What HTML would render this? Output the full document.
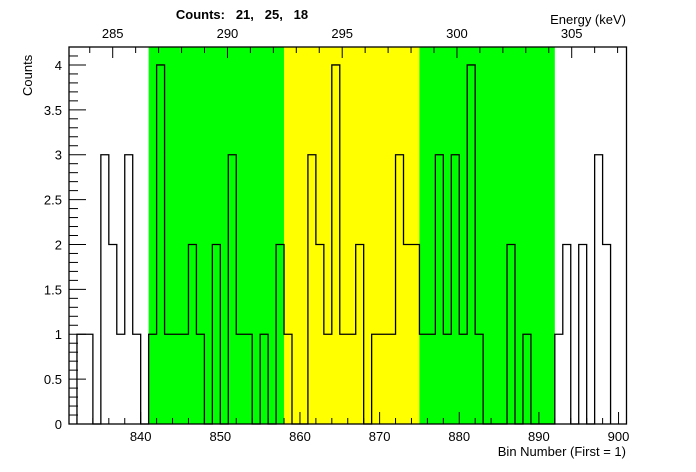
<!DOCTYPE html>
<html><head><meta charset="utf-8"><style>
body{margin:0;background:#fff}
svg{display:block;font-family:"Liberation Sans",Arial,sans-serif}
</style></head><body>
<svg id="c" width="696" height="472" xmlns="http://www.w3.org/2000/svg"></svg>
<script>
const binStart = 832;
const counts = [1,1,0,3,2,1,3,1,0,1,4,1,1,1,2,1,0,2,0,3,1,1,0,1,0,2,1,0,0,3,2,1,4,1,1,2,0,1,1,1,3,2,2,1,1,3,1,3,1,4,1,0,0,0,2,0,1,0,0,0,1,2,0,2,0,3,2];
const regions = [[841,858,"#00ff00"],[858,875,"#ffff00"],[875,892,"#00ff00"]];
const regionCounts = ["21","25","18"];
const xTicks = [840,850,860,870,880,890,900];
const yTicks = [0,0.5,1,1.5,2,2.5,3,3.5,4];
const eTicks = [285,290,295,300,305];

const L=69,R=626.5,T=47,B=424;
const xMin=831,xMax=901,yMax=4.2;
const X=v=>L+(v-xMin)*(R-L)/(xMax-xMin);
const Y=v=>B-v*(B-T)/yMax;
const E=e=>112.7+(e-285)*22.95;
const svg=document.getElementById('c');
const NS="http://www.w3.org/2000/svg";
function mk(tag,attrs,name,parent){const el=document.createElementNS(NS,tag);for(const k in attrs)el.setAttribute(k,attrs[k]);


(parent||svg).appendChild(el);return el;}
function txt(x,y,s,name,extra){const t=mk('text',Object.assign({x:x,y:y,'font-size':13,fill:'#000'},extra||{}),name);t.textContent=s;return t;}

regions.forEach((r,i)=>mk('rect',{x:X(r[0]),y:T,width:X(r[1])-X(r[0]),height:B-T,fill:r[2]},'region-'+i));

let d='M'+X(binStart)+','+Y(0);
counts.forEach((c,i)=>{d+=' L'+X(binStart+i)+','+Y(c)+' L'+X(binStart+i+1)+','+Y(c);});
d+=' L'+X(binStart+counts.length)+','+Y(0);
mk('path',{d:d,fill:'none',stroke:'#000','stroke-width':1.3},'histogram-line');

mk('rect',{x:L,y:T,width:R-L,height:B-T,fill:'none',stroke:'#000','stroke-width':1.3},'plot-frame');

// bottom ticks
for(let v=832;v<=900;v+=2){const maj=v%10===0;mk('line',{x1:X(v),x2:X(v),y1:B,y2:B-(maj?12:6),stroke:'#000'},'x-tick');}
xTicks.forEach(v=>txt(X(v),441,String(v),'x-tick-label',{'text-anchor':'middle'}));
// y ticks
for(let k=0;k<=42;k++){const v=k/10;const maj=k%5===0;mk('line',{x1:L,x2:L+(maj?17:9),y1:Y(v),y2:Y(v),stroke:'#000'},'y-tick');}
yTicks.forEach(v=>txt(62,Y(v)+5,String(v),'y-tick-label',{'text-anchor':'end'}));
// top energy axis
for(let e=282;e<=307;e++){const x=E(e);if(x<L||x>R)continue;const maj=e%5===0;mk('line',{x1:x,x2:x,y1:T,y2:T+(maj?11:6),stroke:'#000'},'energy-tick');}
eTicks.forEach(e=>txt(E(e),38,String(e),'energy-tick-label',{'text-anchor':'middle'}));

txt(626,24,'Energy (keV)','energy-axis-title',{'text-anchor':'end'});
txt(626,456,'Bin Number (First = 1)','x-axis-title',{'text-anchor':'end'});
txt(32,96,'Counts','y-axis-title',{transform:'rotate(-90 32 96)'});
txt(242,19,'Counts:   '+regionCounts.join(',   '),'chart-title',{'text-anchor':'middle','font-weight':'bold','xml:space':'preserve'}).setAttribute('style','white-space:pre');
</script>
</body></html>
